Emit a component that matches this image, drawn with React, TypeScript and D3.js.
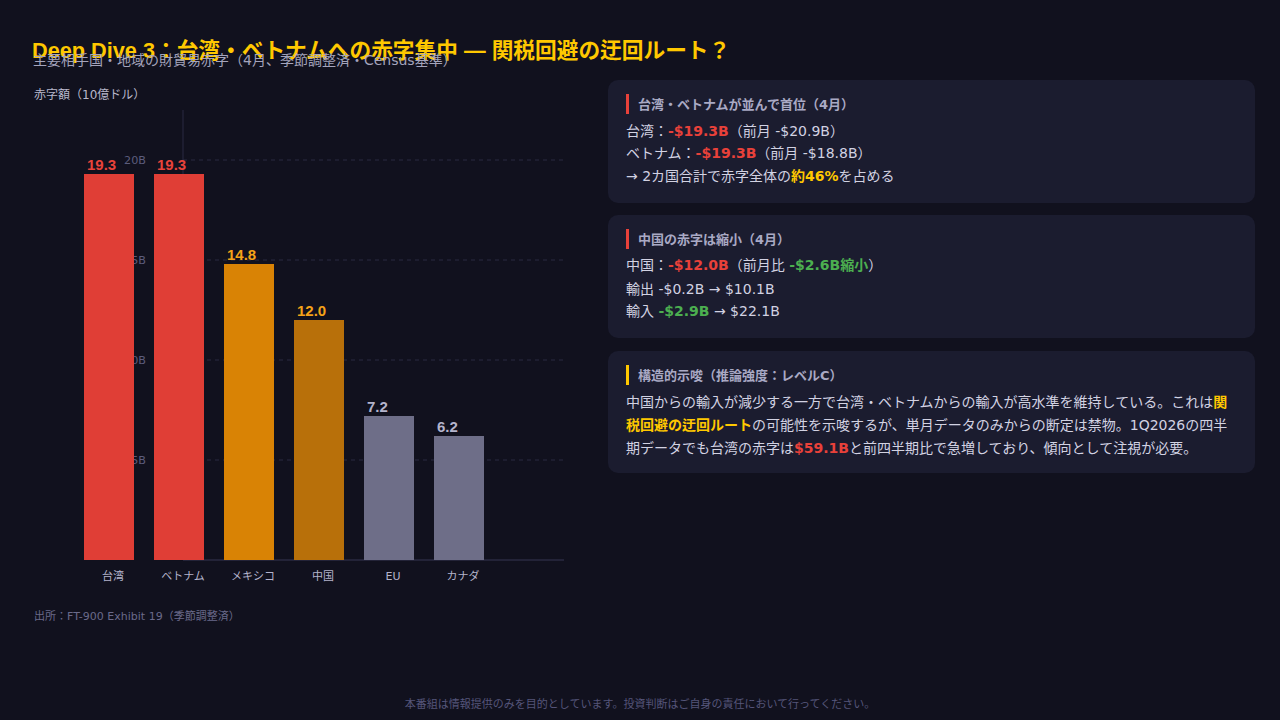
import React from 'react';
import * as d3 from 'd3';

// ---------- data ----------
const categories = ['台湾', 'ベトナム', 'メキシコ', '中国', 'EU', 'カナダ'];
const deficits = [19.3, 19.3, 14.8, 12.0, 7.2, 6.2];
const yTicks = [5, 10, 15, 20];
const yMax = 22.5;

const titleText = 'Deep Dive 3：台湾・ベトナムへの赤字集中 — 関税回避の迂回ルート？';
const subtitleText = '主要相手国・地域の財貿易赤字（4月、季節調整済・Census基準）';
const yAxisLabel = '赤字額（10億ドル）';
const sourceText = '出所：FT-900 Exhibit 19（季節調整済）';
const footerText = '本番組は情報提供のみを目的としています。投資判断はご自身の責任において行ってください。';

type Seg = [string, string];
const card1Title = '台湾・ベトナムが並んで首位（4月）';
const card1Lines: Seg[][] = [
  [['台湾：', 'n'], ['-$19.3B', 'r'], ['（前月 -$20.9B）', 'n']],
  [['ベトナム：', 'n'], ['-$19.3B', 'r'], ['（前月 -$18.8B）', 'n']],
  [['→ 2カ国合計で赤字全体の', 'n'], ['約46%', 'y'], ['を占める', 'n']],
];
const card2Title = '中国の赤字は縮小（4月）';
const card2Lines: Seg[][] = [
  [['中国：', 'n'], ['-$12.0B', 'r'], ['（前月比 ', 'n'], ['-$2.6B縮小', 'g'], ['）', 'n']],
  [['輸出 -$0.2B → $10.1B', 'n']],
  [['輸入 ', 'n'], ['-$2.9B', 'g'], [' → $22.1B', 'n']],
];
const card3Title = '構造的示唆（推論強度：レベルC）';
const card3Lines: Seg[][] = [
  [['中国からの輸入が減少する一方で台湾・ベトナムからの輸入が高水準を維持している。これは', 'n'], ['関', 'y']],
  [['税回避の迂回ルート', 'y'], ['の可能性を示唆するが、単月データのみからの断定は禁物。1Q2026の四半', 'n']],
  [['期データでも台湾の赤字は', 'n'], ['$59.1B', 'r'], ['と前四半期比で急増しており、傾向として注視が必要。', 'n']],
];

// ---------- styles ----------
const FONT = "'DejaVu Sans', 'Noto Sans CJK JP', sans-serif";
const FONT_ARIAL = "'Liberation Sans', 'Noto Sans CJK JP', sans-serif";
const BG = '#11111e';
const CARD = '#1b1c2f';
const RED = '#e8413a';
const YELLOW = '#ffc800';
const GREEN = '#4caf50';
const BODY = '#d2d2e2';
const HEAD = '#a9a9c4';

const barFill: Record<string, string> = {
  '台湾': '#e03e36', 'ベトナム': '#e03e36', 'メキシコ': '#d98305', '中国': '#b8700a', 'EU': '#6e6e88', 'カナダ': '#6e6e88',
};
const labelFill: Record<string, string> = {
  '台湾': '#e8433a', 'ベトナム': '#e8433a', 'メキシコ': '#f5a318', '中国': '#f5a318', 'EU': '#b4b4cc', 'カナダ': '#b4b4cc',
};
const segStyle: Record<string, { fill: string; weight: number }> = {
  n: { fill: BODY, weight: 400 },
  r: { fill: RED, weight: 700 },
  y: { fill: YELLOW, weight: 700 },
  g: { fill: GREEN, weight: 700 },
};

function Card({ y, h, title, lines, accent, lineYs }: { y: number; h: number; title: string; lines: Seg[][]; accent: string; lineYs: number[] }) {
  const x = 608;
  return (
    <g>
      <rect x={x} y={y} width={647} height={h} rx={10} fill={CARD} />
      <rect x={626} y={y + 14} width={3} height={20} fill={accent} />
      <text x={638} y={y + 24} dominantBaseline="central" fontSize={13} fontWeight={700} fill={HEAD}>{title}</text>
      {lines.map((segs, i) => (
        <text key={i} x={626} y={y + lineYs[i]} dominantBaseline="central" fontSize={14} style={{ whiteSpace: 'pre' }}>
          {segs.map(([t, k], j) => (
            <tspan key={j} fill={segStyle[k].fill} fontWeight={segStyle[k].weight}>{t}</tspan>
          ))}
        </text>
      ))}
    </g>
  );
}

export default function App() {
  const W = 1280, H = 720;
  const axisX = 183, plotRight = 564;
  const y = d3.scaleLinear().domain([0, yMax]).range([560, 110]);
  const x = d3.scaleBand<string>().domain(categories).range([74, 494]).paddingInner(2 / 7).paddingOuter(1 / 7);
  const bw = x.bandwidth();

  return (
    <svg width={W} height={H} style={{ position: 'absolute', left: 0, top: 0, fontFamily: FONT }}>
      <rect width={W} height={H} fill={BG} />

      {/* title */}
      <text x={32} y={58} fontSize={21.7} fontWeight={700} fill={YELLOW} fontFamily={FONT_ARIAL}>{titleText}</text>
      <text x={33} y={60} dominantBaseline="central" fontSize={14} fill="#a4a4bc">{subtitleText}</text>

      {/* y axis label */}
      <text x={34} y={95} dominantBaseline="central" fontSize={12} fill="#b8b8cc">{yAxisLabel}</text>

      {/* grid */}
      {yTicks.map((t) => (
        <line key={t} x1={axisX} x2={plotRight} y1={y(t)} y2={y(t)} stroke="#2a2a40" strokeDasharray="4,4" />
      ))}
      <line x1={axisX} x2={axisX} y1={y(yMax)} y2={y(0)} stroke="#2a2a42" />
      <line x1={axisX} x2={plotRight} y1={y(0)} y2={y(0)} stroke="#2a2a42" strokeWidth={1.5} />
      {yTicks.map((t) => (
        <text key={t} x={146} y={y(t)} dominantBaseline="central" textAnchor="end" fontSize={11.2} fill="#5c5c7c">{t}B</text>
      ))}

      {/* bars */}
      {categories.map((c, i) => (
        <g key={c}>
          <rect x={x(c)} y={y(deficits[i])} width={bw} height={y(0) - y(deficits[i])} fill={barFill[c]} />
          <text x={(x(c) as number) + 3} y={y(deficits[i]) - 4} fontSize={15} fontWeight={700} fill={labelFill[c]} fontFamily={FONT_ARIAL}>{deficits[i].toFixed(1)}</text>
          <text x={(x(c) as number) + bw / 2 + 4} y={576} dominantBaseline="central" textAnchor="middle" fontSize={11} fill="#b4b4cc">{c}</text>
        </g>
      ))}

      <text x={34} y={616} dominantBaseline="central" fontSize={11} fill="#6a6a8a">{sourceText}</text>

      {/* cards */}
      <Card y={80} h={123} title={card1Title} lines={card1Lines} accent={RED} lineYs={[51, 73, 96]} />
      <Card y={215} h={123} title={card2Title} lines={card2Lines} accent={RED} lineYs={[50, 74, 96]} />
      <Card y={351} h={122} title={card3Title} lines={card3Lines} accent={YELLOW} lineYs={[51, 74, 97]} />

      <text x={640} y={704} dominantBaseline="central" textAnchor="middle" fontSize={11} fill="#55557a">{footerText}</text>
    </svg>
  );
}
